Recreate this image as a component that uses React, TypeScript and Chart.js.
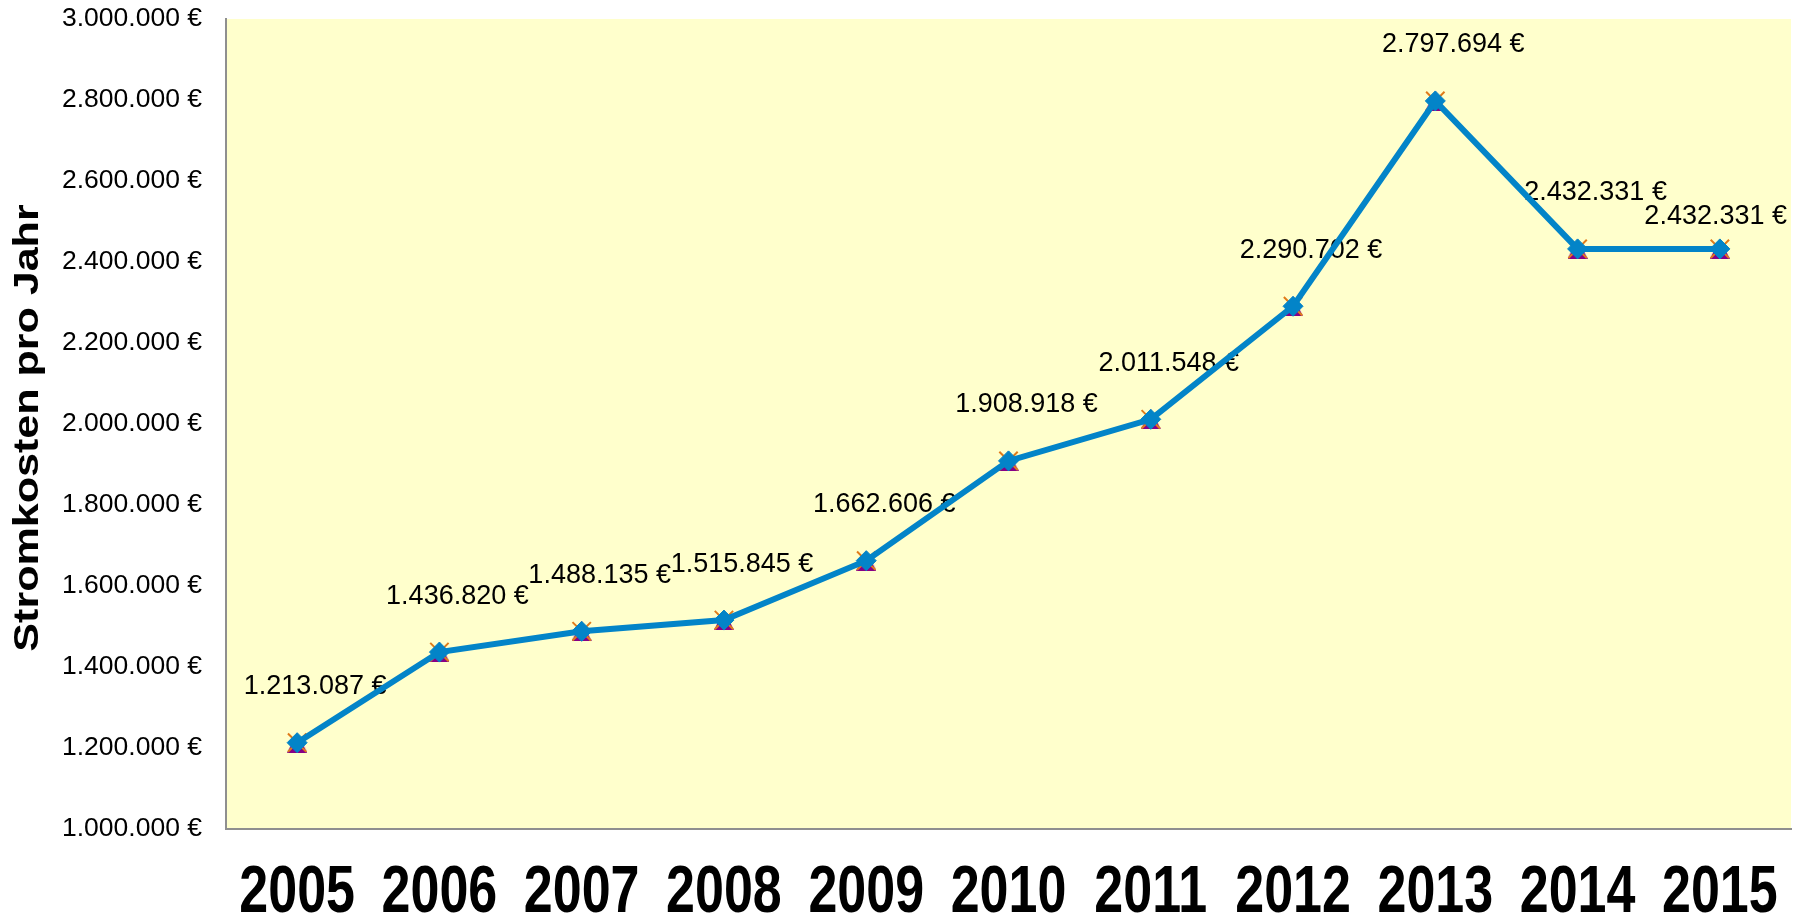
import React, { useEffect, useRef } from "react";
import { Chart, registerables } from "chart.js";

Chart.register(...registerables);

const YEARS = ["2005", "2006", "2007", "2008", "2009", "2010", "2011", "2012", "2013", "2014", "2015"];
const COSTS = [1213087, 1436820, 1488135, 1515845, 1662606, 1908918, 2011548, 2290702, 2797694, 2432331, 2432331];
const Y_MIN = 1000000;
const Y_MAX = 3000000;
const Y_STEP = 200000;
const Y_TITLE = "Stromkosten pro Jahr";

const FONT = "'Liberation Sans', Arial, sans-serif";
const BLUE = "#0384C8";
const ORANGE = "#E07B1A";
const PURPLE = "#860086";
const PLOT_BG = "#FFFFCC";
const AXIS = "#8f8f8f";

function fmtEuro(v: number): string {
  const s = Math.round(v).toString();
  return s.replace(/\B(?=(\d{3})+(?!\d))/g, ".") + " €";
}

function makeTriangle(size: number, color: string): HTMLCanvasElement {
  const c = document.createElement("canvas");
  c.width = size;
  c.height = size;
  const g = c.getContext("2d")!;
  g.fillStyle = color;
  g.beginPath();
  g.moveTo(size / 2, 0);
  g.lineTo(size, size);
  g.lineTo(0, size);
  g.closePath();
  g.fill();
  return c;
}

const plotBgPlugin = {
  id: "plotBg",
  beforeDraw(chart: any) {
    const { ctx, chartArea } = chart;
    ctx.save();
    ctx.fillStyle = PLOT_BG;
    ctx.fillRect(chartArea.left, chartArea.top, chartArea.right - chartArea.left, chartArea.bottom - chartArea.top);
    ctx.restore();
  },
};

const valueLabelPlugin = {
  id: "valueLabels",
  beforeDatasetsDraw(chart: any) {
    const { ctx, chartArea } = chart;
    const meta = chart.getDatasetMeta(0);
    ctx.save();
    ctx.font = `27px ${FONT}`;
    ctx.fillStyle = "#000";
    ctx.textAlign = "center";
    ctx.textBaseline = "middle";
    meta.data.forEach((pt: any, i: number) => {
      const text = fmtEuro(COSTS[i]);
      const w = ctx.measureText(text).width;
      let x = pt.x + 18;
      let y = pt.y - 56;
      if (x + w / 2 > chartArea.right - 4) {
        x = chartArea.right - 4 - w / 2;
        y = pt.y - 32;
      }
      ctx.fillText(text, x, y);
    });
    ctx.restore();
  },
};

const axisTextPlugin = {
  id: "axisText",
  afterDraw(chart: any) {
    const { ctx } = chart;
    const xs = chart.scales.x;
    ctx.save();
    ctx.fillStyle = "#000";
    ctx.font = `bold 52px ${FONT}`;
    ctx.textAlign = "center";
    ctx.textBaseline = "alphabetic";
    YEARS.forEach((yr, i) => {
      const x = xs.getPixelForValue(i);
      ctx.save();
      ctx.translate(x, 912);
      ctx.scale(1, 1.3);
      ctx.fillText(yr, 0, 0);
      ctx.restore();
    });
    ctx.restore();

    const ys = chart.scales.y;
    const cy = (ys.top + ys.bottom) / 2 + 4;
    ctx.save();
    ctx.fillStyle = "#000";
    ctx.font = `bold 35px ${FONT}`;
    ctx.textAlign = "center";
    ctx.textBaseline = "alphabetic";
    ctx.translate(38, cy);
    ctx.rotate(-Math.PI / 2);
    ctx.scale(1.23, 1);
    ctx.fillText(Y_TITLE, 0, 0);
    ctx.restore();
  },
};

export default function App() {
  const ref = useRef<HTMLCanvasElement>(null);

  useEffect(() => {
    if (!ref.current) return;
    const tri = makeTriangle(20, PURPLE);
    const chart = new Chart(ref.current, {
      type: "line",
      data: {
        labels: YEARS,
        datasets: [
          {
            label: "Stromkosten",
            data: COSTS,
            borderColor: BLUE,
            borderWidth: 6,
            tension: 0,
            pointStyle: "rectRot",
            pointRadius: 10,
            pointBackgroundColor: BLUE,
            pointBorderColor: BLUE,
            pointBorderWidth: 1,
            order: 0,
          },
          {
            label: "x",
            data: COSTS,
            showLine: false,
            pointStyle: "crossRot",
            pointRadius: 13,
            pointBorderColor: ORANGE,
            pointBorderWidth: 2,
            order: 1,
          },
          {
            label: "tri",
            data: COSTS,
            showLine: false,
            pointStyle: tri as any,
            pointRadius: 10,
            order: 2,
          },
        ],
      },
      options: {
        responsive: false,
        animation: false,
        devicePixelRatio: 1,
        layout: { padding: { left: 0, right: 7, top: 19, bottom: 0 } },
        plugins: {
          legend: { display: false },
          tooltip: { enabled: false },
          title: { display: false },
        },
        scales: {
          x: {
            type: "category",
            offset: true,
            grid: { display: false, drawTicks: false },
            border: { display: true, color: AXIS, width: 2 },
            ticks: { display: false },
            afterFit: (s: any) => {
              s.height = 85;
              s.paddingLeft = 0;
              s.paddingRight = 0;
            },
          },
          y: {
            min: Y_MIN,
            max: Y_MAX,
            grid: { display: false, drawTicks: false },
            border: { display: true, color: AXIS, width: 2 },
            ticks: {
              stepSize: Y_STEP,
              color: "#000",
              padding: 24,
              font: { size: 26.5, family: FONT },
              callback: (v: any) => fmtEuro(Number(v)),
            },
            afterFit: (s: any) => {
              s.width = 226;
              s.paddingTop = 0;
              s.paddingBottom = 0;
            },
          },
        },
      },
      plugins: [plotBgPlugin, valueLabelPlugin, axisTextPlugin],
    });
    return () => chart.destroy();
  }, []);

  return (
    <div style={{ position: "absolute", left: 0, top: 0, width: 1806, height: 914, background: "#fff" }}>
      <canvas ref={ref} width={1806} height={914} style={{ width: 1806, height: 914, display: "block" }} />
    </div>
  );
}
